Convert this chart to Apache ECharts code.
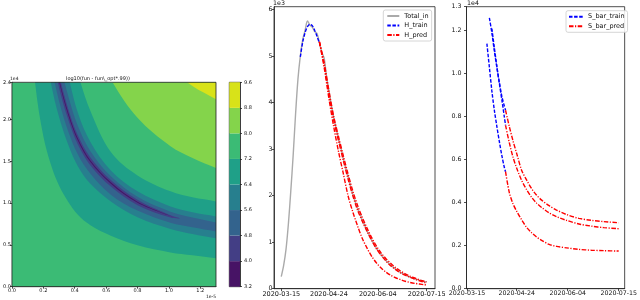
<!DOCTYPE html>
<html><head><meta charset="utf-8">
<script src="https://cdn.jsdelivr.net/npm/echarts/dist/echarts.min.js"></script>
<style>html,body{margin:0;padding:0;background:#fff}#c{width:640px;height:300px}</style>
</head><body><div id="c"></div>
<script>
// ---------- data: tick labels ----------
const tickDays = [0, 40, 81, 122];
const tickLabels = ['2020-03-15', '2020-04-24', '2020-06-04', '2020-07-15'];
const levels = [3.2, 4.0, 4.8, 5.6, 6.4, 7.2, 8.0, 8.8, 9.6];
const levelColors = ['#471365', '#433e85', '#33638d', '#277f8e', '#1fa088', '#3bbb75', '#84d44b', '#d8e219'];

// ---------- contour boundaries (x in 1e-5, y in 1e4) ----------
const cx   = [0.06, 0.10, 0.15, 0.20, 0.25, 0.30, 0.36, 0.42, 0.50, 0.63, 0.80, 1.01, 1.15, 1.30, 1.40];
const lo72 = [6.03, 3.58, 2.40, 1.80, 1.45, 1.21, 1.01, 0.86, 0.735, 0.61, 0.495, 0.41, 0.375, 0.34, 0.32];
const lo64 = [10.1, 5.99, 4.02, 3.02, 2.42, 2.03, 1.69, 1.44, 1.23, 1.02, 0.83, 0.69, 0.63, 0.58, 0.55];
const lo56 = [11.1, 6.57, 4.41, 3.31, 2.66, 2.22, 1.85, 1.58, 1.35, 1.10, 0.91, 0.765, 0.71, 0.66, 0.625];
const lo48 = [11.87, 7.04, 4.73, 3.55, 2.85, 2.38, 1.99, 1.70, 1.45, 1.197, 0.975, 0.826];
const up48 = [12.67, 7.52, 5.05, 3.79, 3.04, 2.54, 2.12, 1.81, 1.545, 1.277, 1.04, 0.855];
const tip48 = [1.07, 0.818];
const lo40 = [12.21, 7.25, 4.87, 3.65, 2.93, 2.455, 2.045, 1.748, 1.49, 1.231, 1.003];
const up40 = [12.39, 7.35, 4.93, 3.71, 2.97, 2.485, 2.075, 1.772, 1.51, 1.249, 1.017];
const tip40 = [1.02, 0.84];
const up56 = [13.5, 8.03, 5.39, 4.05, 3.25, 2.72, 2.27, 1.92, 1.62, 1.32, 1.075, 0.897, 0.826, 0.767, 0.725];
const up64 = [15.0, 8.9, 5.98, 4.49, 3.6, 3.01, 2.51, 2.08, 1.73, 1.39, 1.14, 0.96, 0.89, 0.84, 0.795];
const up72 = [17.8, 10.6, 7.1, 5.34, 4.28, 3.58, 2.99, 2.55, 2.10, 1.61, 1.33, 1.14, 1.07, 1.02, 0.965];
const up80 = [24.6, 14.6, 9.8, 7.36, 5.9, 4.94, 4.12, 3.52, 3.0, 2.48, 2.02, 1.68, 1.54, 1.42, 1.34];
const up88 = [38.4, 22.8, 15.3, 11.5, 9.2, 7.7, 6.43, 5.49, 4.68, 3.87, 3.15, 2.62, 2.40, 2.24, 2.11];

// ---------- middle panel (days since 2020-03-15, values 1e3) ----------
const totalDays = [0,2,4,6,8,10,12,14,16,18,20,22,24,26,28,30,32,34,36,38,40,42,44,46,48,50,52,54,56,58,60,62,64,66,68,70,72,74,76,78,80,82,84,86,88,90,92,94,96,98,100,102,104,106,108,110,112,114,116,118,120,122];
const totalIn = [0.26,0.5,0.85,1.4,2.1,2.87,3.75,4.5,5.0,5.35,5.55,5.75,5.66,5.62,5.52,5.48,5.28,5.08,4.95,4.55,4.25,3.95,3.68,3.45,3.22,3.03,2.8,2.6,2.42,2.22,2.03,1.88,1.72,1.62,1.46,1.36,1.24,1.14,1.04,0.95,0.86,0.8,0.72,0.66,0.6,0.55,0.5,0.46,0.42,0.38,0.35,0.32,0.3,0.27,0.25,0.23,0.21,0.2,0.18,0.17,0.15,0.15];
const hTrainDays = [16,18,20,22,24,26,28,30,32];
const hTrain = [4.98,5.30,5.50,5.63,5.68,5.65,5.55,5.42,5.28];
const hPredDays = [32,36,40,44,48,52,56,60,64,68,72,76,80,84,88,92,96,100,104,108,112,116,120,122];
const hPredA = [5.30,4.80,4.18,3.62,3.18,2.76,2.36,2.00,1.69,1.45,1.23,1.03,0.85,0.71,0.59,0.49,0.41,0.34,0.29,0.245,0.205,0.17,0.135,0.12];
const hPredB = [5.30,4.85,4.25,3.70,3.27,2.86,2.47,2.10,1.79,1.53,1.30,1.09,0.91,0.76,0.64,0.54,0.45,0.38,0.32,0.27,0.23,0.19,0.16,0.15];
const hPredC = [5.30,4.75,4.08,3.48,2.95,2.48,2.00,1.65,1.35,1.08,0.87,0.69,0.55,0.44,0.355,0.285,0.235,0.195,0.16,0.135,0.115,0.10,0.085,0.08];

// ---------- right panel (values 1e4) ----------
const sTrainDays = [16,18,20,22,24,26,28,30,31];
const sTrain1 = [1.14,1.03,0.92,0.83,0.755,0.685,0.62,0.565,0.544];
const sTrain2 = [null,1.26,1.19,1.105,1.03,0.96,0.895,0.85,0.83];
const sTrain3 = [null,null,1.21,1.12,1.035,0.955,0.88,0.80,0.76];
const sPredDays = [31,34,37,40,44,48,52,56,60,66,72,80,90,100,110,122];
const sPred1 = [0.544,0.448,0.395,0.36,0.32,0.285,0.26,0.24,0.225,0.206,0.197,0.19,0.183,0.179,0.177,0.175];
const sPred2 = [0.83,0.755,0.688,0.628,0.55,0.505,0.465,0.435,0.412,0.386,0.366,0.345,0.327,0.318,0.312,0.307];
const sPred3 = [0.76,0.68,0.612,0.56,0.503,0.46,0.425,0.398,0.378,0.353,0.335,0.318,0.301,0.291,0.284,0.279];

// ---------- helpers ----------
const FONT = 'DejaVu Sans';
const pairs = (d, v) => d.map((x, i) => v[i] == null ? null : [x, v[i]]).filter(p => p);
function above(up) {
  const p = cx.map((x, i) => [x, up[i]]);
  p.push([1.7, up[up.length - 1]], [1.7, 60], [0.0, 60]);
  return p;
}
function band(lo, up) {
  const a = cx.map((x, i) => [x, lo[i]]);
  a.push([1.7, lo[lo.length - 1]], [1.7, up[up.length - 1]]);
  const b = cx.map((x, i) => [x, up[i]]).reverse();
  return a.concat(b);
}
function tipBand(lo, up, tip) {
  const a = lo.map((y, i) => [cx[i], y]);
  a.push(tip);
  const b = up.map((y, i) => [cx[i], y]).reverse();
  return a.concat(b);
}
const regions = [
  { c: 5, pts: [[-1, -1], [3, -1], [3, 5], [-1, 5]], s: 0 },
  { c: 6, pts: above(up80), s: 0.35 },
  { c: 7, pts: above(up88), s: 0.35 },
  { c: 4, pts: band(lo72, up72), s: 0.35 },
  { c: 3, pts: band(lo64, up64), s: 0.35 },
  { c: 2, pts: band(lo56, up56), s: 0.35 },
  { c: 1, pts: tipBand(lo48, up48, tip48), s: 0.35 },
  { c: 0, pts: tipBand(lo40, up40, tip40), s: 0.35 }
];

const axisLineS = { show: true, onZero: false, lineStyle: { color: '#222', width: 0.8 } };
const tickS = (len) => ({ show: true, inside: false, length: len, lineStyle: { color: '#222', width: 0.8 } });
const dashed = [3.5, 1.6];
const dashdot = [4.5, 1.5, 1.2, 1.5];
const dateFmt = v => { const i = tickDays.indexOf(Math.round(v)); return i >= 0 ? tickLabels[i] : ''; };

function lineS(name, xi, data, color, type, width) {
  return { name, type: 'line', xAxisIndex: xi, yAxisIndex: xi, data, showSymbol: false, symbol: 'none',
    smooth: 0.3, lineStyle: { color, type, width }, itemStyle: { color }, silent: true, z: 3 };
}
const legendBase = {
  orient: 'vertical', itemHeight: 8, padding: [2, 3, 2, 3], borderColor: '#ccc', borderWidth: 0.8, borderRadius: 2,
  backgroundColor: 'rgba(255,255,255,0.85)', selectedMode: false,
  itemStyle: { opacity: 0, borderWidth: 0 },
  textStyle: { fontSize: 6.5, fontFamily: FONT, color: '#111', lineHeight: 8 }
};

const chart = echarts.init(document.getElementById('c'), null, { renderer: 'canvas' });
const option = {
  animation: false,
  backgroundColor: '#fff',
  textStyle: { fontFamily: FONT },
  grid: [
    { left: 10, top: 82.3, width: 206, height: 204.4, show: true, borderColor: '#222', borderWidth: 0.8, z: 5 },
    { left: 229.3, top: 82.3, width: 10.7, height: 204.4, show: true, borderColor: '#222', borderWidth: 0.8 },
    { left: 274, top: 6.7, width: 161, height: 282, show: true, borderColor: '#222', borderWidth: 0.8 },
    { left: 466.5, top: 6.7, width: 160, height: 282, show: true, borderColor: '#222', borderWidth: 0.8 }
  ],
  xAxis: [
    { gridIndex: 0, type: 'value', min: 0, max: 1.3, interval: 0.2, axisLine: axisLineS, axisTick: tickS(2),
      splitLine: { show: false }, axisLabel: { fontSize: 5, margin: 1.5, color: '#111', fontFamily: FONT, formatter: v => v.toFixed(1), showMaxLabel: false } },
    { gridIndex: 1, type: 'value', min: 0, max: 1, show: false },
    { gridIndex: 2, type: 'value', min: -6.1, max: 129, axisLine: axisLineS,
      axisTick: Object.assign(tickS(2.5), { customValues: tickDays }), splitLine: { show: false },
      axisLabel: { customValues: tickDays, formatter: dateFmt, fontSize: 6.5, margin: 2, color: '#111', fontFamily: FONT } },
    { gridIndex: 3, type: 'value', min: -0.4, max: 126.8, axisLine: axisLineS,
      axisTick: Object.assign(tickS(2.5), { customValues: tickDays }), splitLine: { show: false },
      axisLabel: { customValues: tickDays, formatter: dateFmt, fontSize: 6.3, margin: 2, color: '#111', fontFamily: FONT } }
  ],
  yAxis: [
    { gridIndex: 0, type: 'value', min: 0, max: 2.444, interval: 0.5, axisLine: axisLineS, axisTick: tickS(2),
      splitLine: { show: false }, axisLabel: { fontSize: 5, margin: 1, color: '#111', fontFamily: FONT, formatter: v => v.toFixed(1) } },
    { gridIndex: 1, type: 'value', position: 'right', min: 3.2, max: 9.6, axisLine: axisLineS,
      axisTick: Object.assign(tickS(2), { customValues: levels }), splitLine: { show: false },
      axisLabel: { customValues: levels, fontSize: 5, margin: 4, color: '#111', fontFamily: FONT, formatter: v => v.toFixed(1) } },
    { gridIndex: 2, type: 'value', min: 0, max: 6.056, interval: 1, axisLine: axisLineS, axisTick: tickS(2),
      splitLine: { show: false }, axisLabel: { fontSize: 6.3, margin: 1.5, color: '#111', fontFamily: FONT } },
    { gridIndex: 3, type: 'value', min: 0, max: 1.3116, interval: 0.2, axisLine: axisLineS, axisTick: tickS(2.5),
      splitLine: { show: false }, axisLabel: { fontSize: 6.3, margin: 5, color: '#111', fontFamily: FONT, formatter: v => v.toFixed(1) } }
  ],
  legend: [
    Object.assign({}, legendBase, { data: ['Total_in', 'H_train', 'H_pred'], left: 383.3, top: 10, itemWidth: 12, itemGap: 1.5 }),
    Object.assign({}, legendBase, { data: ['S_bar_train', 'S_bar_pred'], left: 566, top: 10.7, itemWidth: 14, itemGap: 1.6, padding: [2, 3, 2, 2] })
  ],
  graphic: [
    { type: 'text', left: 10, top: 76.5, style: { text: '1e4', fontSize: 4.5, fontFamily: FONT, fill: '#111' } },
    { type: 'text', right: 424, top: 294.5, style: { text: '1e-5', fontSize: 4.5, fontFamily: FONT, fill: '#111' } },
    { type: 'text', left: 66, top: 76, style: { text: 'log10(fun - fun\\_opt*.99))', fontSize: 5, fontFamily: FONT, fill: '#111' } },
    { type: 'text', left: 273, top: 0, style: { text: '1e3', fontSize: 6.3, fontFamily: FONT, fill: '#111' } },
    { type: 'text', left: 467, top: 0, style: { text: '1e4', fontSize: 6.3, fontFamily: FONT, fill: '#111' } }
  ],
  series: [
    { type: 'custom', xAxisIndex: 0, yAxisIndex: 0, clip: true, silent: true, z: 1,
      data: regions.map((r, i) => [0.5, 1, i]),
      renderItem: (params, api) => {
        const r = regions[params.dataIndex];
        const cs = params.coordSys;
        return { type: 'polygon', shape: { points: r.pts.map(p => api.coord(p)), smooth: r.s },
          style: { fill: levelColors[r.c], stroke: null },
          clipPath: { type: 'rect', shape: { x: cs.x, y: cs.y, width: cs.width, height: cs.height } } };
      } },
    { type: 'custom', xAxisIndex: 1, yAxisIndex: 1, silent: true, z: 1,
      data: levels.slice(0, -1).map((v, i) => [0, v, levels[i + 1], i]),
      renderItem: (params, api) => {
        const lo = api.value(1), hi = api.value(2);
        const p0 = api.coord([0, hi]), p1 = api.coord([1, lo]);
        return { type: 'rect', shape: { x: p0[0], y: p0[1], width: p1[0] - p0[0], height: p1[1] - p0[1] },
          style: { fill: levelColors[params.dataIndex] } };
      } },
    lineS('Total_in', 2, pairs(totalDays, totalIn), '#aaaaaa', 'solid', 1.4),
    lineS('H_train', 2, pairs(hTrainDays, hTrain), '#0000ff', dashed, 1.4),
    lineS('H_pred', 2, pairs(hPredDays, hPredA), '#ff0000', dashdot, 1.4),
    lineS('H_pred', 2, pairs(hPredDays, hPredB), '#ff0000', dashdot, 1.4),
    lineS('H_pred', 2, pairs(hPredDays, hPredC), '#ff0000', dashdot, 1.4),
    lineS('S_bar_train', 3, pairs(sTrainDays, sTrain1), '#0000ff', dashed, 1.4),
    lineS('S_bar_train', 3, pairs(sTrainDays, sTrain2), '#0000ff', dashed, 1.4),
    lineS('S_bar_train', 3, pairs(sTrainDays, sTrain3), '#0000ff', dashed, 1.4),
    lineS('S_bar_pred', 3, pairs(sPredDays, sPred1), '#ff0000', dashdot, 1.4),
    lineS('S_bar_pred', 3, pairs(sPredDays, sPred2), '#ff0000', dashdot, 1.4),
    lineS('S_bar_pred', 3, pairs(sPredDays, sPred3), '#ff0000', dashdot, 1.4)
  ]
};
chart.setOption(option);
</script></body></html>
